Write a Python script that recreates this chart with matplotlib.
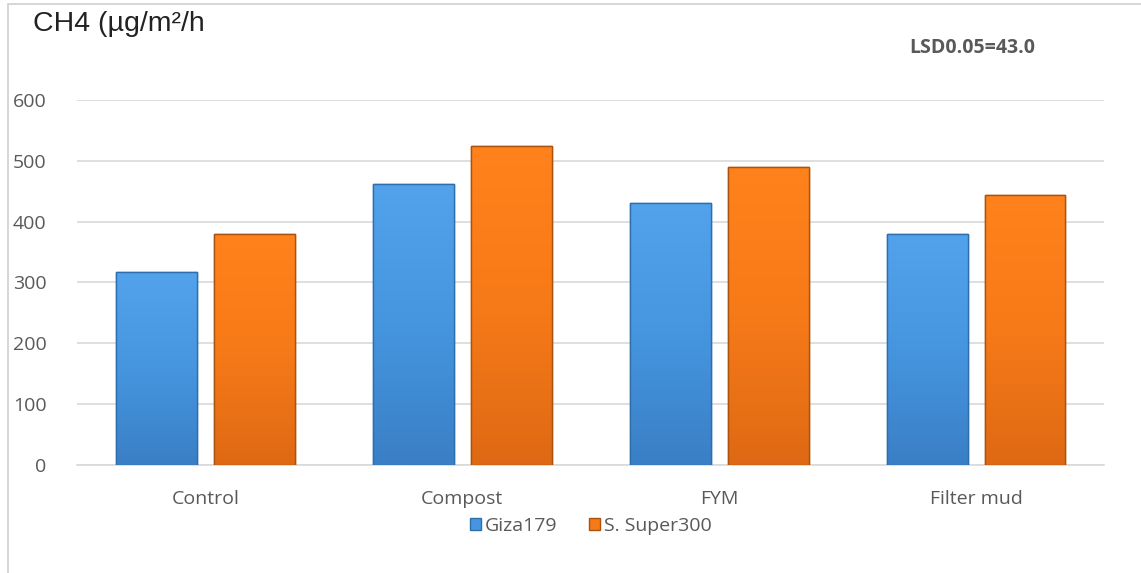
import numpy as np
import matplotlib.pyplot as plt
from matplotlib.patches import Rectangle
from matplotlib.colors import LinearSegmentedColormap

categories = ['Control', 'Compost', 'FYM', 'Filter mud']
giza179 = [317, 462, 431, 380]
super300 = [380, 524, 490, 444]
series_names = ['Giza179', 'S. Super300']
yticks = [0, 100, 200, 300, 400, 500, 600]

plt.rcParams['font.family'] = ['Open Sans', 'DejaVu Sans']

fig = plt.figure(figsize=(11.41, 5.73), dpi=100)
ax = fig.add_axes([0.0675, 0.1885, 0.9005, 0.637])

# outer chart frame (only left and top edges are visible in the crop)
fig.add_artist(Rectangle((0.007, -0.1), 1.2, 1.093, transform=fig.transFigure,
                         fill=False, edgecolor='#D0D0D0', linewidth=1.2))

x = np.arange(len(categories))
w = 0.315
gap = 0.066
off = (w + gap) / 2

styles = [
    dict(face='#4596DF', edge='#2F6EAD', top='#52A3EC', bottom='#3A7FC6'),
    dict(face='#F77A18', edge='#A9530F', top='#FF821C', bottom='#DE6914'),
]

for vals, sign, st, name in zip([giza179, super300], [-1, 1], styles, series_names):
    bars = ax.bar(x + sign * off, vals, width=w, color=st['face'],
                  edgecolor=st['edge'], linewidth=1.0, label=name, zorder=3)
    cmap = LinearSegmentedColormap.from_list('g', [st['bottom'], st['face'], st['top']])
    grad = np.linspace(0, 1, 256).reshape(-1, 1)
    for b in bars:
        x0, y0 = b.get_x(), b.get_y()
        im = ax.imshow(grad, extent=(x0, x0 + b.get_width(), y0, y0 + b.get_height()),
                       origin='lower', cmap=cmap, aspect='auto', zorder=3.5)
        im.set_clip_path(b)
        # keep the darker outline on top of the gradient
        ax.add_patch(Rectangle((x0, y0), b.get_width(), b.get_height(), fill=False,
                               edgecolor=st['edge'], linewidth=1.0, zorder=4))

ax.set_xlim(-0.5, len(categories) - 0.5)
ax.set_ylim(0, 600)
ax.set_yticks(yticks)
ax.set_xticks(x)
ax.set_xticklabels(categories)
ax.tick_params(axis='both', length=0, labelsize=14, colors='#595959')
ax.tick_params(axis='x', pad=18)
ax.tick_params(axis='y', pad=22)
ax.grid(axis='y', color='#D9D9D9', linewidth=1.2, zorder=0)
for s in ['top', 'right', 'left']:
    ax.spines[s].set_visible(False)
ax.spines['bottom'].set_color('#D9D9D9')
ax.spines['bottom'].set_linewidth(1.2)

fig.text(0.029, 0.958, 'CH4 (\u00b5g/m\u00b2/h', fontsize=20.5, color='#222222',
         family=['Liberation Sans', 'DejaVu Sans'], va='center')
fig.text(0.797, 0.917, 'LSD0.05=43.0', fontsize=14, fontweight='bold',
         color='#595959', va='center')

ax.legend(loc='upper center', bbox_to_anchor=(0.5, -0.095), ncol=2, frameon=False,
          fontsize=14, labelcolor='#595959', handlelength=0.6, handleheight=0.6,
          handletextpad=0.2, columnspacing=1.6)

fig.savefig('out.png', dpi=100)
